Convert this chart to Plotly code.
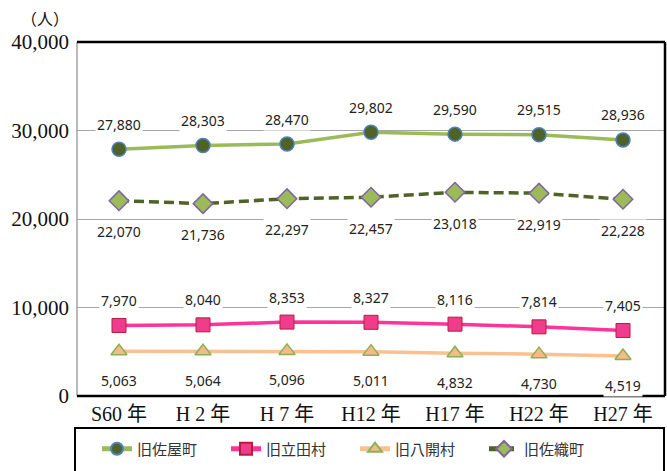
import plotly.graph_objects as go

categories = ["S60 年", "H 2 年", "H 7 年", "H12 年", "H17 年", "H22 年", "H27 年"]
saya = [27880, 28303, 28470, 29802, 29590, 29515, 28936]
tatsuta = [7970, 8040, 8353, 8327, 8116, 7814, 7405]
hachikai = [5063, 5064, 5096, 5011, 4832, 4730, 4519]
saori = [22070, 21736, 22297, 22457, 23018, 22919, 22228]
y_ticks = [0, 10000, 20000, 30000, 40000]
y_ticktext = ["0", "10,000", "20,000", "30,000", "40,000"]

series = [
    dict(name="旧佐屋町", y=saya, line=dict(color="#9BBB59", width=3.5),
         marker=dict(symbol="circle", size=14, color="#4F6228", line=dict(color="#4F81BD", width=1.5)),
         shift=25),
    dict(name="旧立田村", y=tatsuta, line=dict(color="#FF3399", width=3.5),
         marker=dict(symbol="square", size=14, color="#F03C8C", line=dict(color="#B0203C", width=1)),
         shift=25),
    dict(name="旧八開村", y=hachikai, line=dict(color="#FAC090", width=3.5),
         marker=dict(symbol="triangle-up", size=14, color="#F5B98A", line=dict(color="#8DB050", width=1.5)),
         shift=-29),
    dict(name="旧佐織町", y=saori, line=dict(color="#4F6228", width=3.5, dash="10px,5px"),
         marker=dict(symbol="diamond", size=15, color="#9BBB59", line=dict(color="#8064A2", width=1.5)),
         shift=-31),
]

fig = go.Figure()
annotations = []
for s in series:
    fig.add_trace(go.Scatter(x=categories, y=s["y"], mode="lines+markers", name=s["name"],
                             line=s["line"], marker=s["marker"], cliponaxis=False))
    for c, v in zip(categories, s["y"]):
        annotations.append(dict(x=c, y=v, xref="x", yref="y", text=f"{v:,}", showarrow=False,
                                yshift=s["shift"], bgcolor="white", borderpad=1,
                                font=dict(family="Noto Sans", size=14, color="#222")))

annotations.append(dict(xref="paper", yref="paper", x=(45 - 77) / 588, y=(396 - 18) / 354,
                        xanchor="center", yanchor="middle",
                        text="（人）", showarrow=False,
                        font=dict(family="Noto Sans CJK JP", size=16, color="#111")))

fig.update_layout(
    width=667, height=471,
    margin=dict(l=77, r=2, t=42, b=75, autoexpand=False),
    paper_bgcolor="white", plot_bgcolor="white",
    showlegend=True,
    legend=dict(orientation="h", x=(97 - 77) / 588, xanchor="left", y=(396 - 449) / 354, yanchor="middle",
                font=dict(family="Noto Sans CJK JP", size=15, color="#333"), itemsizing="constant",
                entrywidth=84, entrywidthmode="pixels", bgcolor="rgba(0,0,0,0)", borderwidth=0),
    annotations=annotations,
    xaxis=dict(type="category", showgrid=False, showline=False, ticks="", automargin=False,
               tickfont=dict(family="Liberation Serif, Noto Sans CJK JP", size=20, color="#111"),
               range=[-0.5, 6.5], fixedrange=True, ticklabelstandoff=4),
    yaxis=dict(range=[0, 40000], tickvals=y_ticks, ticktext=y_ticktext, showgrid=True, automargin=False,
               gridcolor="#A6A6A6", gridwidth=1, zeroline=False, showline=False, ticks="",
               tickfont=dict(family="Liberation Serif", size=21, color="#111"), ticklabelstandoff=7),
    shapes=[
        dict(type="line", xref="paper", yref="paper", x0=0, x1=0, y0=0, y1=1,
             line=dict(color="#8C8C8C", width=1.2), layer="above"),
        dict(type="line", xref="paper", yref="paper", x0=0, x1=1, y0=1, y1=1,
             line=dict(color="#000", width=2.5), layer="above"),
        dict(type="line", xref="paper", yref="paper", x0=1, x1=1, y0=0, y1=1,
             line=dict(color="#000", width=2.5), layer="above"),
        dict(type="line", xref="paper", yref="paper", x0=0, x1=1, y0=0, y1=0,
             line=dict(color="#000", width=2.5), layer="above"),
        dict(type="rect", xref="paper", yref="paper", x0=(75 - 77) / 588, x1=(664 - 77) / 588,
             y0=(396 - 474) / 354, y1=(396 - 428) / 354, line=dict(color="#000", width=2),
             fillcolor="rgba(0,0,0,0)"),
    ],
)

fig.write_html("out.html", config={"displayModeBar": False},
               post_script="document.body.style.margin='0';document.body.style.padding='0';")
